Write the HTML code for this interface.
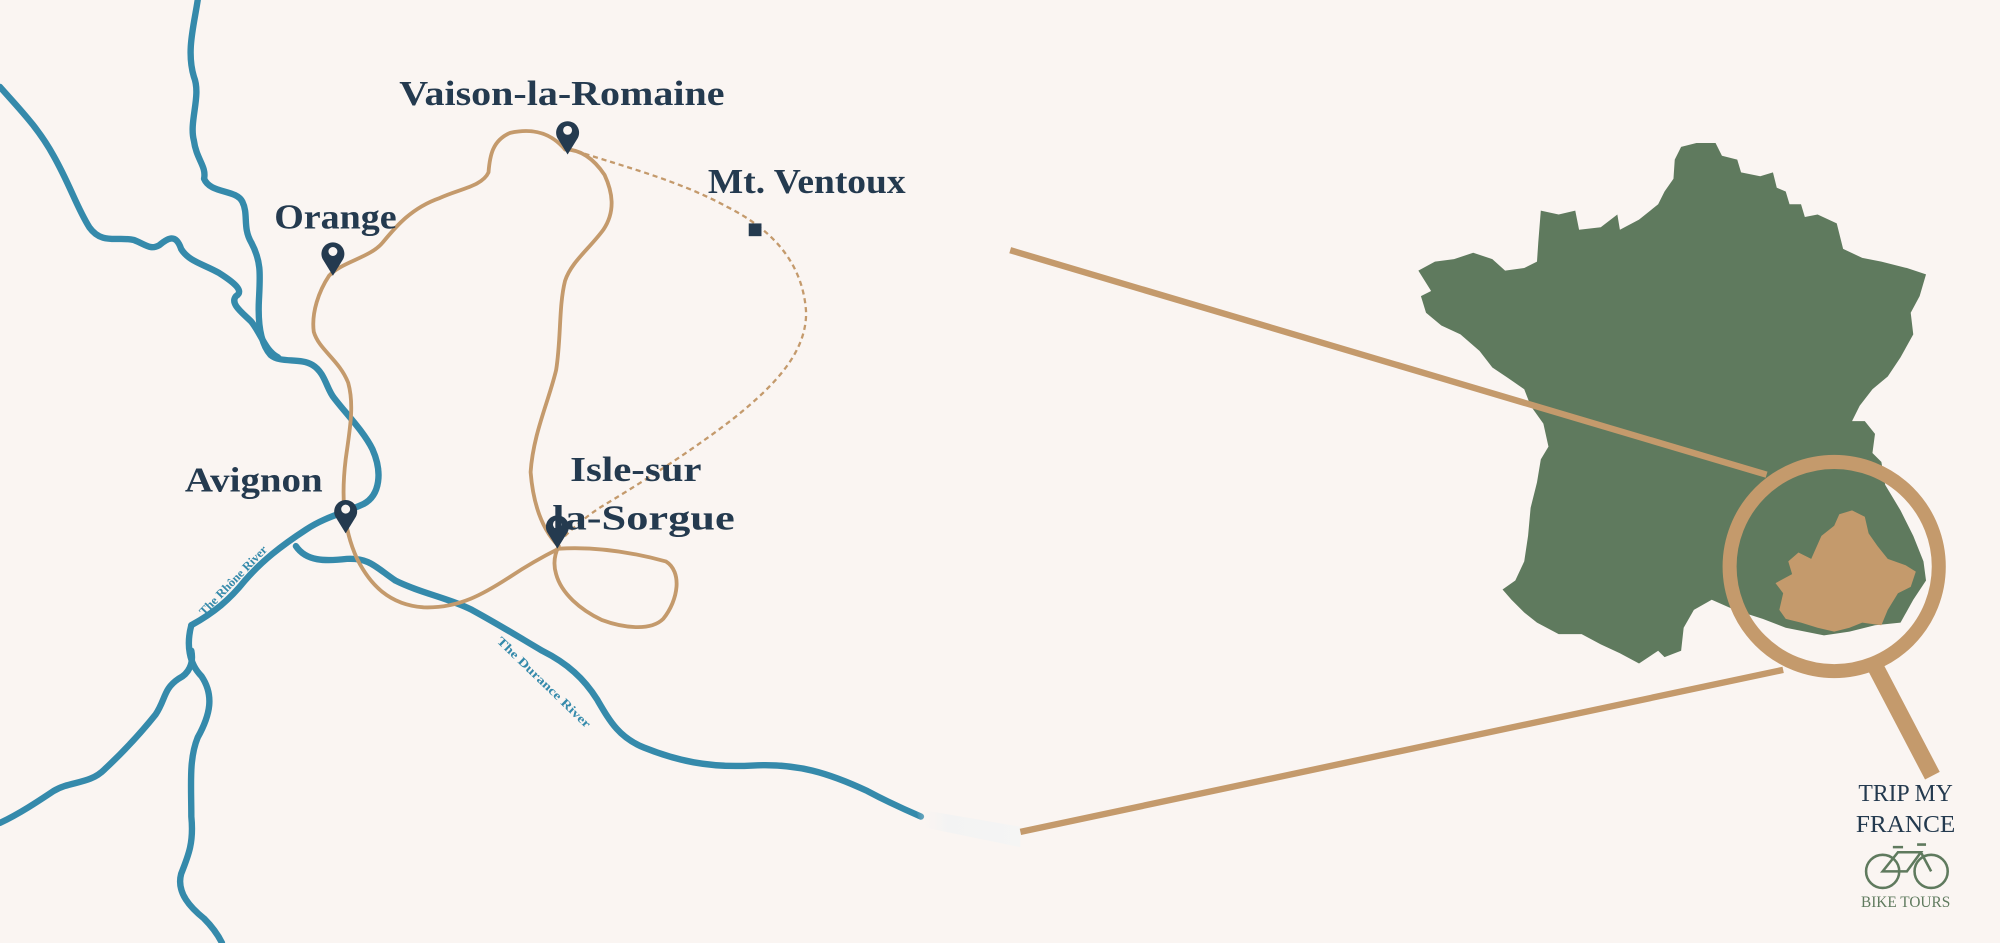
<!DOCTYPE html>
<html><head><meta charset="utf-8"><style>
html,body{margin:0;padding:0;background:#faf5f2;}
svg{display:block;}
.lbl{font-family:"Liberation Serif",serif;font-weight:bold;fill:#243a4f;font-size:27px;}
.riv{fill:none;stroke:#358aab;stroke-width:5;stroke-linecap:round;stroke-linejoin:round;}
.rt{fill:none;stroke:#c49a6c;stroke-width:3;stroke-linecap:round;stroke-linejoin:round;}
</style></head><body>
<svg width="2000" height="943" viewBox="0 0 1568 739" xmlns="http://www.w3.org/2000/svg">
<rect width="1568" height="739" fill="#faf5f2"/>
<defs>
<linearGradient id="fade" x1="0" x2="1" y1="0" y2="0"><stop offset="0" stop-color="#faf5f2" stop-opacity="0"/><stop offset="0.3" stop-color="#f3f3f3"/><stop offset="1" stop-color="#f5f5f4"/></linearGradient>
</defs>
<!-- rivers -->
<path class="riv" d="M155,0 C152,20 146,40 152,60 C158,75 148,95 152,110 C154,125 162,130 160,140 C165,152 185,148 190,158 C195,168 190,178 197,190 C205,205 204,215 203,235 C202,255 205,270 212,278 C220,285 235,280 245,286 C255,292 256,305 262,312 C272,325 285,338 292,352 C300,370 298,388 285,395 C270,402 255,405 240,415 C220,428 205,440 192,455 C180,470 168,480 150,490"/>
<path class="riv" d="M150,490 C146,505 148,520 158,530 C168,545 165,560 155,578 C148,595 150,615 150,640 C152,660 148,670 142,685 C138,700 150,712 160,720 C168,728 172,735 174,739"/>
<path class="riv" d="M0,68 C15,85 30,100 42,122 C55,145 60,162 70,178 C80,192 92,185 105,188 C115,192 118,196 125,192 C132,186 138,183 142,195 C148,205 160,207 172,214 C183,221 192,228 185,232 C180,238 190,245 197,252 C205,262 208,275 218,280"/>
<path class="riv" d="M0,645 C15,638 30,628 42,620 C55,612 70,615 82,603 C98,588 110,575 122,560 C130,548 128,540 140,532 C148,528 152,520 150,510"/>
<path class="riv" d="M232,428 C240,440 255,440 272,438 C290,437 295,445 310,455 C330,465 350,468 370,478 C392,490 408,500 425,510 C445,520 458,532 468,548 C478,565 485,578 505,586 C530,596 555,602 590,600 C625,598 650,606 680,620 C695,628 708,634 722,640"/>
<polygon points="718,634 800,648 800,664 722,648" fill="url(#fade)"/>
<text font-family="Liberation Serif,serif" font-size="9.5" font-weight="bold" fill="#358aab" transform="translate(160,483) rotate(-46)" textLength="72" lengthAdjust="spacingAndGlyphs">The Rhône River</text>
<text font-family="Liberation Serif,serif" font-size="9.5" font-weight="bold" fill="#358aab" transform="translate(389,503) rotate(44)" textLength="98" lengthAdjust="spacingAndGlyphs">The Durance River</text>
<!-- route -->
<path class="rt" d="M443,117 C432,104 418,100 400,104 C386,110 384,122 383,135 C378,146 360,148 345,155 C322,163 310,178 300,190 C290,202 268,205 258,216 C250,228 244,245 246,260 C250,274 266,282 273,300 C278,318 274,338 271,360 C268,385 268,412 280,438 C290,458 305,474 332,476 C360,477 380,465 400,452 C415,442 428,435 438,430"/>
<path class="rt" d="M438,430 C470,428 500,434 522,440 C535,448 532,470 520,485 C510,495 488,492 472,486 C455,478 440,465 436,450 C433,440 436,432 438,428"/>
<path class="rt" d="M438,428 C425,415 418,395 416,370 C418,340 430,315 436,290 C440,265 438,240 443,220 C448,205 462,195 473,180 C483,165 480,150 474,137 C466,125 456,117 443,117"/>
<path d="M445,116 C480,128 530,140 570,162 C610,182 630,210 632,245 C632,275 610,300 575,328 C540,355 500,380 470,398 C455,408 445,418 438,425" fill="none" stroke="#c49a6c" stroke-width="1.8" stroke-dasharray="4,3"/>
<rect x="587" y="175" width="10" height="10" fill="#243a4f"/>
<!-- pins -->
<g fill="#243a4f">
<path d="M445,121 L437,108 A9,9 0 1 1 453,108 Z"/><circle cx="445" cy="102" r="3.5" fill="#faf5f2"/>
<path d="M261,216 L253,203 A9,9 0 1 1 269,203 Z"/><circle cx="261" cy="197" r="3.5" fill="#faf5f2"/>
<path d="M271,418 L263,405 A9,9 0 1 1 279,405 Z"/><circle cx="271" cy="399" r="3.5" fill="#faf5f2"/>
<path d="M437,430 L429,417 A9,9 0 1 1 445,417 Z"/><circle cx="437" cy="411" r="3.5" fill="#faf5f2"/>
</g>
<text class="lbl" x="313" y="82" textLength="255" lengthAdjust="spacingAndGlyphs">Vaison-la-Romaine</text>
<text class="lbl" x="555" y="151" textLength="155" lengthAdjust="spacingAndGlyphs">Mt. Ventoux</text>
<text class="lbl" x="215" y="179" textLength="96" lengthAdjust="spacingAndGlyphs">Orange</text>
<text class="lbl" x="145" y="385" textLength="108" lengthAdjust="spacingAndGlyphs">Avignon</text>
<text class="lbl" x="447" y="377" textLength="103" lengthAdjust="spacingAndGlyphs">Isle-sur</text>
<text class="lbl" x="433" y="415" textLength="143" lengthAdjust="spacingAndGlyphs">la-Sorgue</text>
<!-- France -->
<path fill="#5f7a5e" d="M1330,112 L1345,112 L1350,122 L1362,125 L1365,135 L1380,138 L1390,135 L1393,147 L1400,150 L1403,160 L1412,160 L1415,170 L1425,168 L1440,175 L1445,195 L1460,202 L1475,205 L1495,210 L1510,215 L1505,232 L1498,245 L1500,262 L1490,280 L1480,295 L1468,305 L1458,318 L1452,330 L1462,330 L1470,340 L1468,355 L1475,362 L1478,380 L1490,400 L1500,420 L1508,440 L1510,455 L1500,470 L1490,488 L1470,490 L1450,495 L1430,498 L1400,492 L1382,485 L1360,478 L1342,470 L1328,478 L1320,492 L1318,510 L1305,515 L1300,510 L1285,520 L1270,512 L1255,505 L1240,497 L1222,497 L1205,488 L1195,480 L1185,470 L1178,462 L1188,455 L1195,440 L1198,420 L1200,398 L1205,378 L1208,360 L1214,350 L1210,332 L1200,318 L1195,305 L1182,296 L1170,288 L1160,275 L1145,262 L1130,255 L1118,245 L1114,232 L1122,228 L1112,212 L1125,205 L1140,203 L1155,198 L1170,203 L1180,212 L1195,210 L1205,205 L1206,190 L1208,165 L1222,168 L1235,165 L1238,180 L1255,178 L1268,168 L1270,180 L1285,172 L1300,160 L1305,150 L1312,140 L1313,125 L1318,115 Z"/>
<path fill="#c49a6c" d="M1395,478 L1398,465 L1392,457 L1405,450 L1402,440 L1410,433 L1420,438 L1428,420 L1438,412 L1442,403 L1452,400 L1462,405 L1465,418 L1472,428 L1480,438 L1494,443 L1502,448 L1498,460 L1488,465 L1480,478 L1475,490 L1460,488 L1450,492 L1438,495 L1425,492 L1412,488 L1400,485 Z"/>
<!-- magnifier lines -->
<line x1="792" y1="196" x2="1385" y2="372" stroke="#c49a6c" stroke-width="5"/>
<line x1="800" y1="652" x2="1398" y2="525" stroke="#c49a6c" stroke-width="5"/>
<circle cx="1438" cy="444" r="82" fill="none" stroke="#c49a6c" stroke-width="11"/>
<line x1="1470" y1="522" x2="1515" y2="608" stroke="#c49a6c" stroke-width="13"/>
<!-- logo -->
<text x="1494" y="628" text-anchor="middle" font-family="Liberation Serif,serif" font-size="19" fill="#243a4f" textLength="74" lengthAdjust="spacingAndGlyphs">TRIP MY</text>
<text x="1494" y="652" text-anchor="middle" font-family="Liberation Serif,serif" font-size="19" fill="#243a4f" textLength="78" lengthAdjust="spacingAndGlyphs">FRANCE</text>
<g fill="none" stroke="#5f7a5e" stroke-width="2">
<circle cx="1476" cy="683" r="13"/><circle cx="1514" cy="683" r="13"/>
<path d="M1476,683 L1488,668 L1506,668 L1495,683 Z M1506,668 L1514,683 M1484,664 L1492,664 M1503,662 L1510,662"/>
</g>
<text x="1494" y="711" text-anchor="middle" font-family="Liberation Serif,serif" font-size="12" fill="#5f7a5e" textLength="70" lengthAdjust="spacingAndGlyphs">BIKE TOURS</text>
</svg>
</body></html>
